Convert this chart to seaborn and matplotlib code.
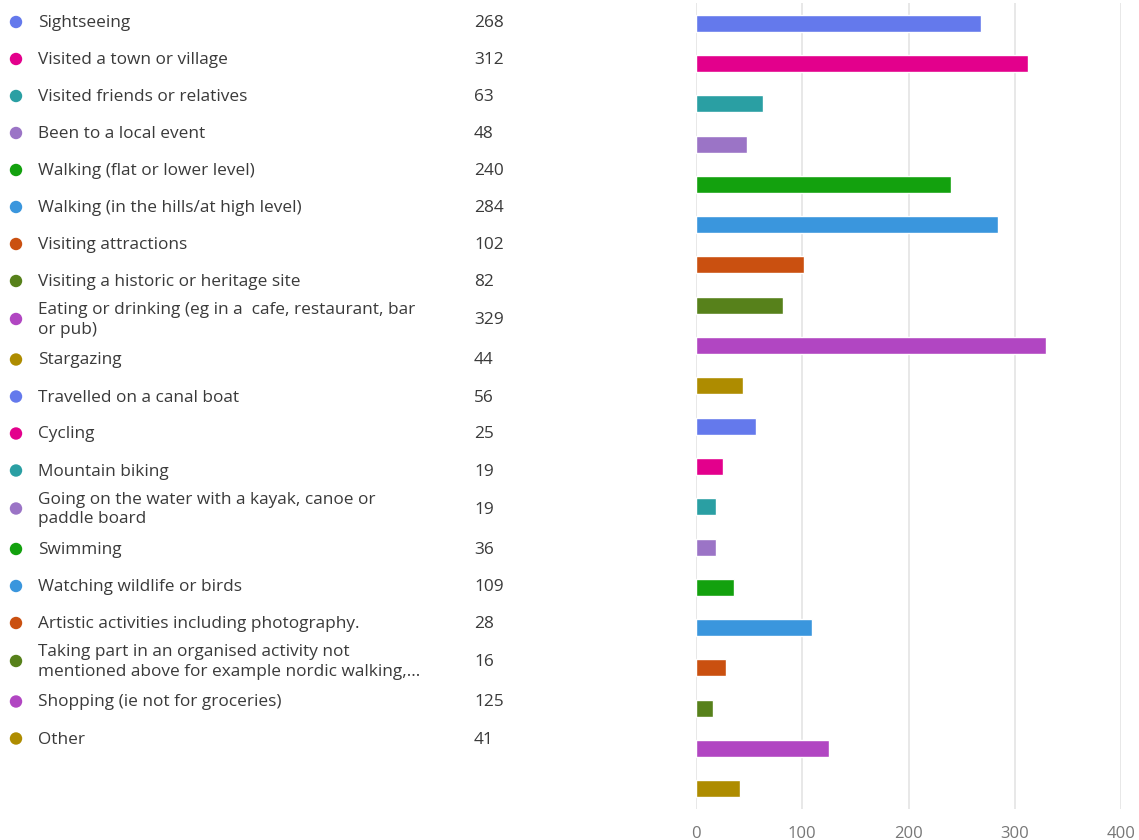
import numpy as np
import pandas as pd
import matplotlib
matplotlib.use("Agg")
import matplotlib.pyplot as plt
import seaborn as sns

categories = [
    "Sightseeing",
    "Visited a town or village",
    "Visited friends or relatives",
    "Been to a local event",
    "Walking (flat or lower level)",
    "Walking (in the hills/at high level)",
    "Visiting attractions",
    "Visiting a historic or heritage site",
    "Eating or drinking (eg in a  cafe, restaurant, bar\nor pub)",
    "Stargazing",
    "Travelled on a canal boat",
    "Cycling",
    "Mountain biking",
    "Going on the water with a kayak, canoe or\npaddle board",
    "Swimming",
    "Watching wildlife or birds",
    "Artistic activities including photography.",
    "Taking part in an organised activity not\nmentioned above for example nordic walking,...",
    "Shopping (ie not for groceries)",
    "Other",
]
values = [268, 312, 63, 48, 240, 284, 102, 82, 329, 44, 56, 25, 19, 19, 36, 109, 28, 16, 125, 41]
base_colors = ["#6479ec", "#e3008c", "#2a9fa3", "#9b74c6", "#13a10e",
               "#3a96dd", "#ca5010", "#57811b", "#b146c2", "#ae8c00"]
colors = [base_colors[i % len(base_colors)] for i in range(len(categories))]
xticks = [0, 100, 200, 300, 400]

sns.set_theme(style="white")
plt.rcParams["font.family"] = ["Open Sans", "DejaVu Sans"]

W, H = 1139, 840
fig = plt.figure(figsize=(W / 100, H / 100), dpi=100)

# ---- bar chart (right) ----
x0, x1 = 696, 1121
top, bottom = 3, 809
ax = fig.add_axes([x0 / W, 1 - bottom / H, (x1 - x0) / W, (bottom - top) / H])
df = pd.DataFrame({"cat": categories, "val": values})
sns.barplot(data=df, y="cat", x="val", hue="cat", palette=colors, orient="h",
            width=0.42, legend=False, ax=ax, saturation=1)
ax.set_xlim(0, 400)
ax.set_ylim(len(categories) - 0.5, -0.5)
ax.set_xticks(xticks)
ax.set_xticklabels([str(t) for t in xticks], color="#777777", fontsize=12)
ax.set_yticks([])
ax.set_xlabel("")
ax.set_ylabel("")
for s in ax.spines.values():
    s.set_visible(False)
ax.tick_params(axis="x", length=0, pad=12)
ax.set_axisbelow(True)
ax.xaxis.grid(True, color="#e4e4e4", linewidth=1.2)
ax.patch.set_alpha(0)

# ---- legend list (left) ----
lax = fig.add_axes([0, 0, 1, 1])
lax.set_xlim(0, W)
lax.set_ylim(H, 0)
lax.axis("off")
lax.patch.set_alpha(0)

y = 22.0
prev_lines = 1
ys = []
for i, c in enumerate(categories):
    n = c.count("\n") + 1
    if i > 0:
        y += 37.0 + (n - 1) * 1.0 + (prev_lines - 1) * 3.5
    ys.append(y)
    prev_lines = n

lax.scatter([16] * len(ys), ys, s=80, c=colors, linewidths=0)
for c, v, yy in zip(categories, values, ys):
    lax.text(38, yy + 1, c, va="center", ha="left", fontsize=12.4, color="#3a3a3a",
             linespacing=1.32)
    lax.text(474, yy + 1, str(v), va="center", ha="left", fontsize=12.4, color="#3a3a3a")

fig.savefig("out.png", dpi=100)
